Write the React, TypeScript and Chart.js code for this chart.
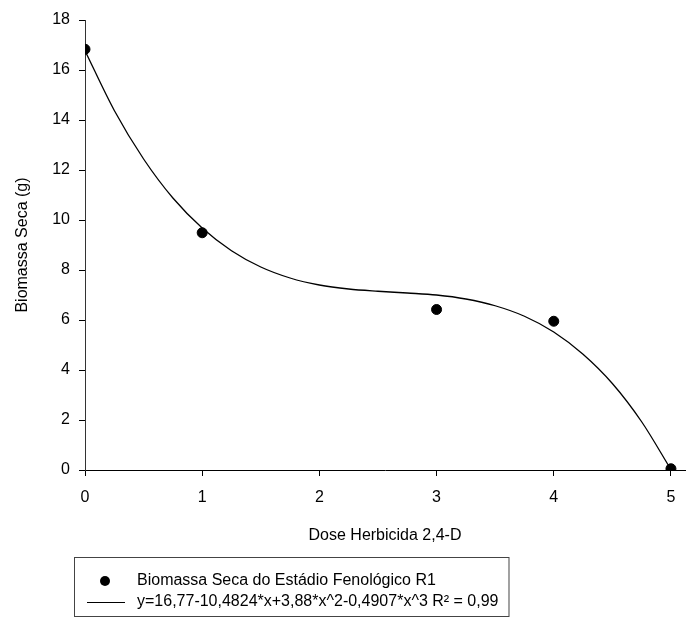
import React, { useEffect, useRef } from "react";
import { Chart, registerables } from "chart.js";

Chart.register(...registerables);

// Observed dry biomass per herbicide dose
const doses = [0, 1, 3, 4, 5];
const biomass = [16.83, 9.49, 6.42, 5.95, 0.05];

// Fitted cubic curve, sampled every 0.25 dose unit
const curveDoses = [
  0, 0.25, 0.5, 0.75, 1, 1.25, 1.5, 1.75, 2, 2.25, 2.5, 2.75, 3, 3.25, 3.5,
  3.75, 4, 4.25, 4.5, 4.75, 5,
];
const curveBiomass = [
  16.77, 14.38, 12.44, 10.88, 9.68, 8.77, 8.12, 7.68, 7.4, 7.24, 7.15, 7.08,
  7.0, 6.84, 6.57, 6.15, 5.52, 4.63, 3.46, 1.93, 0.02,
];

const xTicks = [0, 1, 2, 3, 4, 5];
const yTicks = [0, 2, 4, 6, 8, 10, 12, 14, 16, 18];

const pointLabel = "Biomassa Seca do Estádio Fenológico R1";
const curveLabel = "y=16,77-10,4824*x+3,88*x^2-0,4907*x^3 R² = 0,99";
const xTitle = "Dose Herbicida 2,4-D";
const yTitle = "Biomassa Seca (g)";

const FONT = "'Liberation Sans', Arial, sans-serif";

// Boxed legend drawn under the x-axis title
const boxLegend = {
  id: "boxLegend",
  afterDraw(chart: any) {
    const ctx = chart.ctx as CanvasRenderingContext2D;
    const ds = chart.data.datasets;
    const left = 74;
    const top = 557;
    const row1 = 581;
    const row2 = 602;
    const textX = 137;
    ctx.save();
    ctx.font = `16px ${FONT}`;
    const w = Math.max(
      ctx.measureText(ds[0].label).width,
      ctx.measureText(ds[1].label).width
    );
    const right = textX + w + 10;
    const bottom = 616;
    ctx.strokeStyle = "#444";
    ctx.lineWidth = 1;
    ctx.strokeRect(left + 0.5, top + 0.5, right - left, bottom - top);

    ctx.fillStyle = "#000";
    ctx.beginPath();
    ctx.arc(105, row1, 5, 0, Math.PI * 2);
    ctx.fill();

    ctx.strokeStyle = "#000";
    ctx.beginPath();
    ctx.moveTo(87, row2 + 0.5);
    ctx.lineTo(125, row2 + 0.5);
    ctx.stroke();

    ctx.textBaseline = "middle";
    ctx.textAlign = "left";
    ctx.fillText(ds[0].label, textX, row1);
    ctx.fillText(ds[1].label, textX, row2);
    ctx.restore();
  },
};

export default function App() {
  const canvasRef = useRef<HTMLCanvasElement>(null);

  useEffect(() => {
    if (!canvasRef.current) return;
    const chart = new Chart(canvasRef.current, {
      type: "scatter",
      data: {
        datasets: [
          {
            label: pointLabel,
            data: doses.map((d, i) => ({ x: d, y: biomass[i] })),
            backgroundColor: "#000",
            borderColor: "#000",
            pointRadius: 5,
            pointHoverRadius: 5,
            showLine: false,
            order: 0,
          },
          {
            label: curveLabel,
            type: "line",
            data: curveDoses.map((d, i) => ({ x: d, y: curveBiomass[i] })),
            borderColor: "#000",
            borderWidth: 1.3,
            pointRadius: 0,
            fill: false,
            cubicInterpolationMode: "monotone",
            order: 1,
          } as any,
        ],
      },
      options: {
        responsive: false,
        animation: false,
        layout: { padding: { top: 20, right: 0, bottom: 74, left: 0 } },
        plugins: {
          legend: { display: false },
          tooltip: { enabled: false },
        },
        scales: {
          x: {
            type: "linear",
            min: 0,
            max: 5.12,
            afterBuildTicks: (scale: any) => {
              scale.ticks = xTicks.map((v) => ({ value: v }));
            },
            afterFit: (scale: any) => {
              scale.height = 75;
            },
            grid: {
              drawOnChartArea: false,
              drawTicks: true,
              tickLength: 6,
              color: "#000",
            },
            border: { display: true, color: "#000", width: 1 },
            ticks: {
              color: "#000",
              font: { family: FONT, size: 16 },
              padding: 12,
              maxRotation: 0,
            },
            title: {
              display: true,
              text: xTitle,
              color: "#000",
              font: { family: FONT, size: 16 },
              padding: { top: 0, bottom: 0 },
            },
          },
          y: {
            type: "linear",
            min: 0,
            max: 18,
            afterBuildTicks: (scale: any) => {
              scale.ticks = yTicks.map((v) => ({ value: v }));
            },
            afterFit: (scale: any) => {
              scale.width = 85;
            },
            grid: {
              drawOnChartArea: false,
              drawTicks: true,
              tickLength: 6,
              color: "#000",
            },
            border: { display: true, color: "#333", width: 1 },
            ticks: {
              color: "#000",
              font: { family: FONT, size: 16 },
              padding: 9,
            },
            title: {
              display: true,
              text: yTitle,
              color: "#000",
              font: { family: FONT, size: 16 },
              padding: { top: 13, bottom: 0 },
            },
          },
        },
      },
      plugins: [boxLegend],
    });
    return () => chart.destroy();
  }, []);

  return (
    <div
      style={{
        position: "fixed",
        left: 0,
        top: 0,
        width: 691,
        height: 619,
        background: "#fff",
      }}
    >
      <canvas ref={canvasRef} width={691} height={619} />
    </div>
  );
}
